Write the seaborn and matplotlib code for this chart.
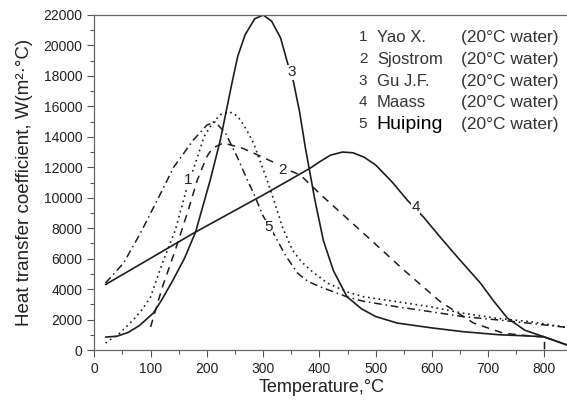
import numpy as np
import pandas as pd
import seaborn as sns
from matplotlib import pyplot as plt
from matplotlib.ticker import MultipleLocator

# curve 1: Yao X. (dotted)
yao_t = [20, 45, 69, 85, 100, 121, 144, 165, 180, 195, 210, 224, 240, 255, 270, 283, 307, 319, 335, 352, 368, 384, 414, 450, 478, 538, 597, 656, 716, 775, 840]
yao_h = [460, 1100, 1970, 2650, 3480, 5710, 7880, 10700, 12300, 14000, 14900, 15450, 15650, 15350, 14500, 13590, 11160, 9850, 8000, 6570, 5800, 5250, 4400, 3800, 3500, 3170, 2840, 2410, 2080, 1860, 1480]

# curve 2: Sjostrom (dashed)
sjo_t = [100, 121, 144, 167, 183, 200, 210, 229, 260, 283, 318, 340, 366, 407, 478, 550, 615, 674, 727, 780, 800, 800]
sjo_h = [1510, 4140, 6570, 9190, 11160, 12700, 13260, 13590, 13300, 12930, 12340, 11900, 11490, 10050, 7680, 5250, 3170, 1770, 1100, 900, 850, 0]

# curve 3: Gu J.F. (solid)
gu_t = [20, 40, 60, 80, 105, 120, 140, 160, 180, 206, 224, 245, 255, 268, 285, 300, 315, 331, 343, 354, 365, 375, 392, 407, 425, 449, 475, 500, 538, 600, 656, 720, 798, 840]
gu_h = [850, 900, 1150, 1600, 2430, 3300, 4600, 6000, 7750, 11160, 13790, 17600, 19300, 20700, 21750, 22000, 21600, 20500, 18900, 17600, 15600, 13300, 9850, 7200, 5200, 3500, 2700, 2200, 1770, 1450, 1200, 1000, 880, 330]

# curve 4: Maass (solid)
maass_t = [20, 180, 300, 360, 384, 400, 420, 441, 460, 480, 500, 530, 556, 585, 615, 650, 686, 710, 734, 765, 798, 840]
maass_h = [4300, 7750, 10180, 11440, 11950, 12350, 12800, 13000, 12950, 12650, 12150, 11000, 9850, 8730, 7400, 5900, 4400, 3200, 2100, 1300, 880, 330]

# curve 5: Huiping (dash-dot)
hui_t = [20, 52, 82, 112, 141, 176, 200, 215, 233, 254, 272, 283, 300, 322, 340, 361, 380, 402, 450, 478, 538, 597, 656, 716, 775, 840]
hui_h = [4400, 5710, 7680, 9850, 12000, 13790, 14770, 14970, 14250, 12680, 11160, 10300, 8800, 7420, 6200, 5050, 4500, 4140, 3480, 3200, 2840, 2520, 2190, 1980, 1750, 1480]

legend_nums = ["1", "2", "3", "4", "5"]
legend_names = ["Yao X.", "Sjostrom", "Gu J.F.", "Maass", "Huiping"]
legend_cond = ["(20°C water)"] * 5

sns.set_style("ticks")
plt.rcParams['font.family'] = ['Liberation Sans', 'DejaVu Sans']

fig = plt.figure(figsize=(5.67, 4.03), dpi=100)
ax = fig.add_axes([94.3 / 567, 1 - 350 / 403, (567 - 94.3) / 567, 335 / 403])

ink = '#1e1e1e'
sns.lineplot(x=yao_t, y=yao_h, ax=ax, color=ink, lw=1.2, linestyle=(0, (1, 2.2)),
             sort=False, estimator=None)
sns.lineplot(x=sjo_t, y=sjo_h, ax=ax, color=ink, lw=1.1, linestyle=(0, (5, 4)),
             sort=False, estimator=None)
sns.lineplot(x=gu_t, y=gu_h, ax=ax, color=ink, lw=1.2, sort=False, estimator=None)
sns.lineplot(x=maass_t, y=maass_h, ax=ax, color=ink, lw=1.2, sort=False, estimator=None)
sns.lineplot(x=hui_t, y=hui_h, ax=ax, color=ink, lw=1.1, linestyle=(0, (5, 2.5, 1, 2.5)),
             sort=False, estimator=None)

# curve numbers
lbl = dict(fontsize=11, color='#222222', ha='center', va='center', zorder=5,
           bbox=dict(facecolor='white', edgecolor='none', pad=0.3))
ax.text(167, 11160, "1", **lbl)
ax.text(334, 11820, "2", **lbl)
ax.text(350, 18250, "3", **lbl)
ax.text(571, 9390, "4", **lbl)
ax.text(309, 8080, "5", **lbl)

# text legend
rows = [20550, 19107, 17660, 16282, 14840]
for i in range(5):
    big = legend_names[i] == "Huiping"
    ax.text(470, rows[i], legend_nums[i], fontsize=11, color='#333333', va='center', ha='left')
    ax.text(502, rows[i], legend_names[i], fontsize=14 if big else 12,
            color='black' if big else '#333333', va='center', ha='left')
    ax.text(651, rows[i], legend_cond[i], fontsize=12.5, color='#333333', va='center', ha='left')

ax.set_xlim(0, 840)
ax.set_ylim(0, 22000)
ax.set_xticks(np.arange(0, 801, 100))
ax.set_yticks(np.arange(0, 22001, 2000))
ax.xaxis.set_minor_locator(MultipleLocator(50))
ax.yaxis.set_minor_locator(MultipleLocator(1000))
ax.tick_params(which='major', length=5, width=0.8, color='#555555', labelsize=10,
               labelcolor='#222222', direction='out')
ax.tick_params(which='minor', length=3, width=0.8, color='#555555', direction='out')

ax.spines['right'].set_visible(False)
for s in ['left', 'bottom', 'top']:
    ax.spines[s].set_color('#666666')
    ax.spines[s].set_linewidth(0.9)

ax.set_xlabel("Temperature,°C", fontsize=13, color='#222222')
ax.set_ylabel("Heat transfer coefficient, W(m²·°C)", fontsize=13.5, color='#222222')
ax.xaxis.set_label_coords(0.48, -0.088)
ax.yaxis.set_label_coords(-0.13, 0.5)

plt.savefig("out.png", dpi=100)
